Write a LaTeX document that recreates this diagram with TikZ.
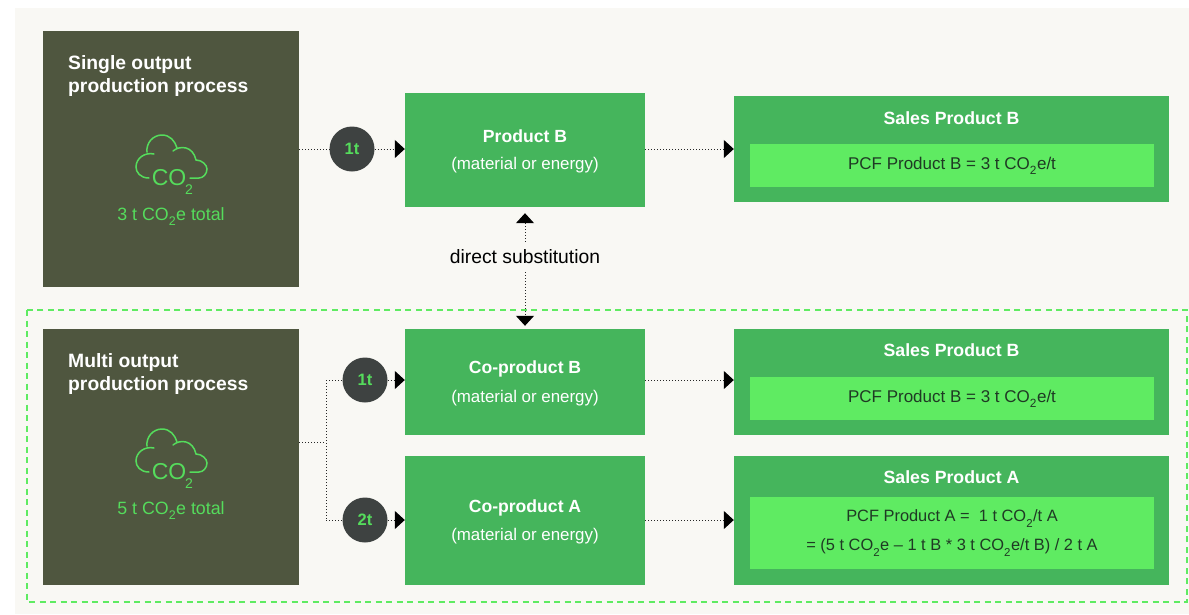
\documentclass[tikz,border=0pt]{standalone}
\usepackage{fontspec}
\setmainfont{Liberation Sans}
\usetikzlibrary{arrows.meta}
\definecolor{pagebg}{HTML}{F9F8F4}
\definecolor{darkolive}{HTML}{4F563F}
\definecolor{midgreen}{HTML}{45B55C}
\definecolor{lightgreen}{HTML}{5FEB62}
\definecolor{cloudgreen}{HTML}{55DC5C}
\definecolor{circlegrey}{HTML}{3E4241}
\definecolor{pcftext}{HTML}{1F3A24}
\newcommand{\cotwo}{CO\raisebox{-.3ex}{\textsubscript{2}}}
\newcommand{\px}[1]{\fontsize{#1}{#1}\selectfont}
\tikzset{
    darkbox/.style={rectangle,fill=darkolive,minimum width=256pt,minimum height=256pt,inner sep=0pt},
    greenbox/.style={rectangle,fill=midgreen,text=white,inner sep=0pt,align=center},
    pcfbox/.style={rectangle,fill=lightgreen,text=pcftext,minimum width=404pt,inner sep=0pt,align=center,font=\px{17}},
    amount/.style={circle,fill=circlegrey,text=cloudgreen,minimum size=45pt,inner sep=0pt,font=\bfseries\px{16.5}},
    boxtitle/.style={text=white,anchor=north west,align=left,inner sep=0pt,font=\bfseries\fontsize{19.3}{23}\selectfont},
    salestitle/.style={text=white,inner sep=0pt,font=\bfseries\px{17.7}},
    totaltext/.style={text=cloudgreen,inner sep=0pt,font=\px{17.8}},
    cloudicon/.pic={
        \draw[cloudgreen,line width=1.5pt,line cap=round]
            (-22,15) .. controls (-31,15) and (-35,9) .. (-35,4)
            .. controls (-35,-5) and (-26,-11) .. (-17,-9)
            (-24,-11) .. controls (-25,-20) and (-18,-28) .. (-9,-28)
            .. controls (-1,-28) and (4,-22) .. (6,-15)
            (2,-12) .. controls (9,-18) and (22,-17) .. (25,-3)
            .. controls (31,-3) and (36,2) .. (36,6)
            .. controls (36,11) and (32,15) .. (28,15)
            -- (19,15);
        \node[text=cloudgreen,inner sep=0pt,font=\px{23}] at (-2,15) {CO};
        \node[text=cloudgreen,inner sep=0pt,font=\px{14}] at (18,27) {2};
    }
}
\begin{document}
\begin{tikzpicture}[x=1pt,y=-1pt]
        \useasboundingbox (0,0) rectangle (1189,614);
        \fill[pagebg] (15,8) rectangle (1189,614);
        \draw[lightgreen,line width=1.2pt,dash pattern=on 6pt off 4.5pt] (27,310) rectangle (1187,602);

        \node[darkbox] (single) at (171,159) {};
        \node[darkbox] (multi) at (171,457) {};
        \node[boxtitle] (singletitle) at (68,55) {Single output\\production process};
        \node[boxtitle] (multititle) at (68,353) {Multi output\\production process};
        \pic at (171,163) {cloudicon};
        \pic at (171,457) {cloudicon};
        \node[totaltext] (singletotal) at (171,216.5) {3 t \cotwo{}e total};
        \node[totaltext] (multitotal) at (171,510.5) {5 t \cotwo{}e total};

        \begin{scope}[every node/.style={greenbox,minimum width=240pt}]
            \node[minimum height=114pt] (productb) at (525,150) {};
            \node[minimum height=106pt] (coproductb) at (525,382) {};
            \node[minimum height=129pt] (coproducta) at (525,520.5) {};
        \end{scope}
        \begin{scope}[every node/.style={inner sep=0pt,align=center,text=white,font=\px{16.9}}]
            \node at (525,136) {\px{17.6}\textbf{Product B}};
            \node at (525,165.5) {(material or energy)};
            \node at (525,369) {\px{17.6}\textbf{Co-product B}};
            \node at (525,398) {(material or energy)};
            \node at (525,508) {\px{17.6}\textbf{Co-product A}};
            \node at (525,536) {(material or energy)};
        \end{scope}

        \begin{scope}[every node/.style={greenbox,minimum width=435pt}]
            \node[minimum height=106pt] (salesb) at (951.5,149) {};
            \node[minimum height=106pt] (salesbtwo) at (951.5,382) {};
            \node[minimum height=129pt] (salesa) at (951.5,520.5) {};
        \end{scope}
        \node[salestitle] at (951.5,118) {Sales Product B};
        \node[salestitle] at (951.5,350) {Sales Product B};
        \node[salestitle] at (951.5,477) {Sales Product A};
        \node[pcfbox,minimum height=43pt] (pcfb) at (952,165.5) {\raisebox{-1.5pt}{PCF Product B = 3 t \cotwo{}e/t}};
        \node[pcfbox,minimum height=43pt] (pcfbtwo) at (952,398.5) {\raisebox{-1.5pt}{PCF Product B = 3 t \cotwo{}e/t}};
        \node[pcfbox,minimum height=72pt,font=\fontsize{16.4}{29}\selectfont] (pcfa) at (952,533)
            {\raisebox{-1.5pt}{PCF Product A = \ 1 t \cotwo{}/t A}\\\raisebox{-1.5pt}{= (5 t \cotwo{}e – 1 t B * 3 t \cotwo{}e/t B) / 2 t A}};

        \node[amount] (one) at (352,149) {1t};
        \node[amount] (onetwo) at (365,380) {1t};
        \node[amount] (two) at (365,520) {2t};
        \node[minimum width=150pt,minimum height=30pt,inner sep=0pt,font=\px{19.3}] (direct) at (525,257) {direct substitution};

        \coordinate (singleout) at (299,149);
        \coordinate (multiout) at (299,442);
        \coordinate (split) at (326,442);
        \coordinate (splitup) at (326,380);
        \coordinate (splitdown) at (326,520);

        \begin{scope}[every edge/.style={draw,black!85,line width=1pt,dash pattern=on 1pt off 2pt},
                      >={Triangle[length=10pt,width=18pt,fill=black,color=black]}]
            \path
                (singleout) edge (one)
                (one) edge [->] (one -| productb.west)
                (one -| productb.east) edge [->] (one -| salesb.west)
                (direct) edge [->,shorten >=6pt] (direct |- productb.south)
                (direct) edge [->,shorten >=3pt] (direct |- coproductb.north)
                (multiout) edge (split)
                (splitup) edge (splitdown)
                (splitup) edge (onetwo)
                (splitdown) edge (two)
                (onetwo) edge [->] (onetwo -| coproductb.west)
                (two) edge [->] (two -| coproducta.west)
                (onetwo -| coproductb.east) edge [->] (onetwo -| salesbtwo.west)
                (two -| coproducta.east) edge [->] (two -| salesa.west);
        \end{scope}
    \end{tikzpicture}
\end{document}
